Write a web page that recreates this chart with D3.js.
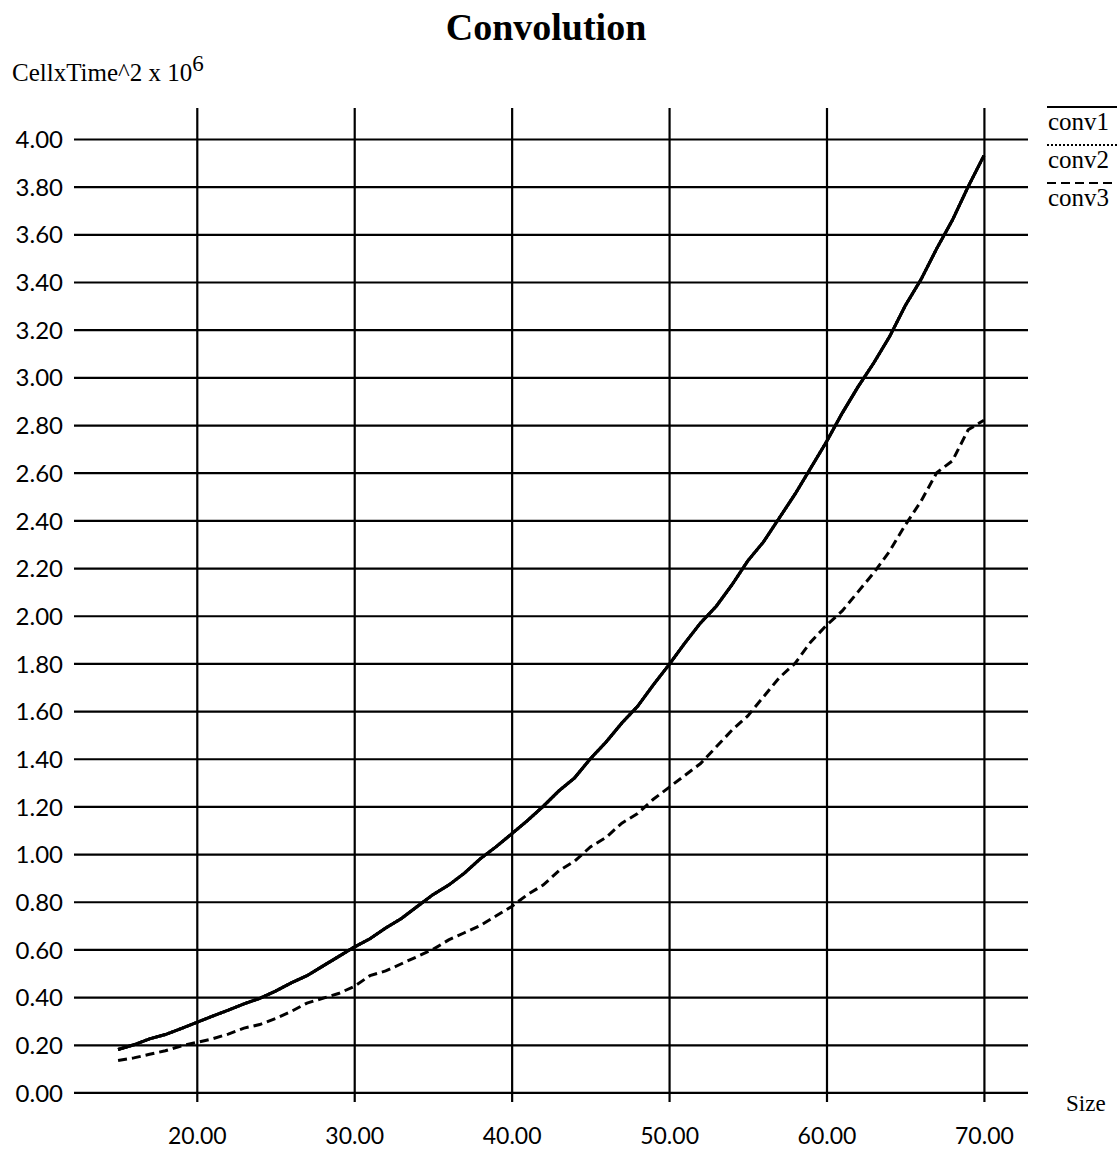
<!DOCTYPE html>
<html>
<head>
<meta charset="utf-8">
<script src="https://cdn.jsdelivr.net/npm/d3@7"></script>
<style>
  body { margin: 0; background: #fff; }
  svg { display: block; }
  .tick text { font-family: Lato, "Noto Sans", sans-serif; fill: #000; }
  .serif { font-family: "Liberation Serif", "Times New Roman", serif; fill: #000; }
</style>
</head>
<body>
<svg id="chart"></svg>
<script>
const sizes = [15, 16, 17, 18, 19, 20, 21, 22, 23, 24, 25, 26, 27, 28, 29, 30,
  31, 32, 33, 34, 35, 36, 37, 38, 39, 40, 41, 42, 43, 44, 45, 46, 47, 48, 49, 50,
  51, 52, 53, 54, 55, 56, 57, 58, 59, 60, 61, 62, 63, 64, 65, 66, 67, 68, 69, 70];

const conv1 = [0.18, 0.20, 0.225, 0.243, 0.268, 0.294, 0.32, 0.345, 0.372, 0.395, 0.425, 0.46, 0.49, 0.53, 0.57, 0.61,
  0.645, 0.69, 0.73, 0.78, 0.83, 0.87, 0.92, 0.98, 1.03, 1.085, 1.14, 1.20, 1.265, 1.32, 1.40, 1.47, 1.55, 1.62, 1.71, 1.795,
  1.885, 1.97, 2.04, 2.13, 2.23, 2.31, 2.41, 2.51, 2.62, 2.73, 2.85, 2.96, 3.06, 3.17, 3.30, 3.41, 3.54, 3.66, 3.80, 3.93];

// conv2 is not visible in the picture: it lies under conv1
const conv2 = conv1.slice();

const conv3 = [0.134, 0.145, 0.16, 0.175, 0.195, 0.21, 0.225, 0.245, 0.27, 0.285, 0.31, 0.34, 0.375, 0.395, 0.415, 0.445,
  0.49, 0.51, 0.54, 0.57, 0.60, 0.64, 0.67, 0.70, 0.74, 0.78, 0.83, 0.87, 0.93, 0.97, 1.03, 1.07, 1.13, 1.17, 1.23, 1.28,
  1.33, 1.38, 1.45, 1.52, 1.58, 1.66, 1.74, 1.80, 1.89, 1.96, 2.02, 2.10, 2.18, 2.27, 2.38, 2.48, 2.60, 2.65, 2.78, 2.82];

const xTicks = [20, 30, 40, 50, 60, 70];
const yTicks = d3.range(0, 21).map((i) => i * 0.2);

const series = [
  { name: "conv1", values: conv1, dash: null },
  { name: "conv2", values: conv2, dash: "2,2" },
  { name: "conv3", values: conv3, dash: "9,5" },
];

const w = 1117;
const h = 1149;

const svg = d3.select("#chart").attr("width", w).attr("height", h);

const xScale = d3.scaleLinear().domain([12.2, 72.8]).range([74, 1028]);
const yScale = d3.scaleLinear().domain([-0.04, 4.13]).range([1102, 108]);

// horizontal grid + y labels
const yAxis = d3
  .axisLeft(yScale)
  .tickValues(yTicks)
  .tickFormat(d3.format(".2f"))
  .tickSizeInner(-(1028 - 74))
  .tickSizeOuter(0)
  .tickPadding(11);

svg
  .append("g")
  .attr("transform", "translate(74, 0)")
  .call(yAxis)
  .call((g) => g.select(".domain").remove())
  .call((g) => g.selectAll(".tick line").attr("stroke", "#000").attr("stroke-width", 2.2))
  .call((g) => g.selectAll(".tick text").attr("font-size", 24).attr("dy", "0.36em"));

// vertical grid + x labels
const xAxis = d3
  .axisBottom(xScale)
  .tickValues(xTicks)
  .tickFormat(d3.format(".2f"))
  .tickSizeInner(-(1102 - 108))
  .tickSizeOuter(0)
  .tickPadding(26);

svg
  .append("g")
  .attr("transform", "translate(0, 1102)")
  .call(xAxis)
  .call((g) => g.select(".domain").remove())
  .call((g) => g.selectAll(".tick line").attr("stroke", "#000").attr("stroke-width", 2.2))
  .call((g) => g.selectAll(".tick text").attr("font-size", 23));

// curves
const line = d3
  .line()
  .x((d, i) => xScale(sizes[i]))
  .y((d) => yScale(d));

svg
  .selectAll("path.series")
  .data(series)
  .enter()
  .append("path")
  .attr("class", "series")
  .attr("d", (s) => line(s.values))
  .attr("fill", "none")
  .attr("stroke", "#000")
  .attr("stroke-width", 3)
  .attr("stroke-dasharray", (s) => s.dash);

// re-draw conv1 on top so it hides conv2
svg.append("path")
  .attr("d", line(conv1))
  .attr("fill", "none")
  .attr("stroke", "#000")
  .attr("stroke-width", 3);

// title
svg.append("text")
  .attr("class", "serif")
  .attr("x", 546)
  .attr("y", 40)
  .attr("text-anchor", "middle")
  .attr("font-size", 38)
  .attr("font-weight", "bold")
  .text("Convolution");

// y label
const yl = svg.append("text")
  .attr("class", "serif")
  .attr("x", 12)
  .attr("y", 81)
  .attr("font-size", 25);
yl.append("tspan").text("CellxTime^2 x 10");
yl.append("tspan").attr("dy", -10).attr("font-size", 23).text("6");

// x label
svg.append("text")
  .attr("class", "serif")
  .attr("x", 1066)
  .attr("y", 1111)
  .attr("font-size", 23)
  .text("Size");

// legend
const legend = svg
  .selectAll("g.legend")
  .data(series)
  .enter()
  .append("g")
  .attr("class", "legend")
  .attr("transform", (d, i) => `translate(1047, ${107 + i * 38})`);

legend.append("line")
  .attr("x1", 0)
  .attr("x2", 72)
  .attr("y1", 0)
  .attr("y2", 0)
  .attr("stroke", "#000")
  .attr("stroke-width", 2)
  .attr("stroke-dasharray", (d) => d.dash);

legend.append("text")
  .attr("class", "serif")
  .attr("x", 1)
  .attr("y", 23)
  .attr("font-size", 25)
  .text((d) => d.name);
</script>
</body>
</html>
